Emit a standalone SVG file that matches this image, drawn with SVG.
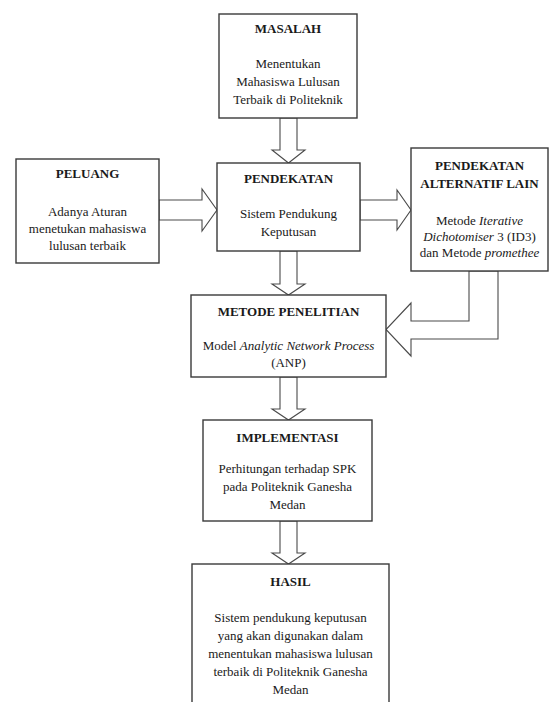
<svg xmlns="http://www.w3.org/2000/svg" width="549" height="702" viewBox="0 0 549 702">
<style>
.box{fill:#fff;stroke:#3a3a3a;stroke-width:1.4}
.arr{fill:#fff;stroke:#4a4a4a;stroke-width:1.1;stroke-linejoin:miter}
text{font-family:'Liberation Serif','DejaVu Serif',serif;font-size:13px;fill:#1a1a1a;text-anchor:middle}
.t{font-weight:bold}
.i{font-style:italic}
</style>
<rect width="549" height="702" fill="#fff"/>
<g id="connectors">
<polygon class="arr" points="280,118 297,118 297,150 305,150 288.5,163 272,150 280,150"/>
<polygon class="arr" points="280,251 297,251 297,284 305,284 288.5,295 272,284 280,284"/>
<polygon class="arr" points="280,377 297,377 297,409 305,409 288.5,420 272,409 280,409"/>
<polygon class="arr" points="280,521 297,521 297,553 305,553 288.5,564 272,553 280,553"/>
<polygon class="arr" points="159,200 202,200 202,189 217,210 202,231 202,220 159,220"/>
<polygon class="arr" points="360,200 397,200 397,190 411,210 397,230 397,220 360,220"/>
<polygon class="arr" points="469,271 498,271 498,339 411,339 411,356 386,329.5 411,303 411,321 469,321"/>
</g>
<g font-family="Liberation Serif, DejaVu Serif, serif">
<g id="masalah">
<rect class="box" x="219" y="14" width="138" height="104"/>
<text class="t" x="288" y="33">MASALAH</text>
<text x="288" y="68">Menentukan</text>
<text x="288" y="86">Mahasiswa Lulusan</text>
<text x="288" y="104">Terbaik di Politeknik</text>
</g>
<g id="peluang">
<rect class="box" x="16" y="159" width="143" height="104"/>
<text class="t" x="87.5" y="178">PELUANG</text>
<text x="87.5" y="216">Adanya Aturan</text>
<text x="87.5" y="233">menetukan mahasiswa</text>
<text x="87.5" y="250">lulusan terbaik</text>
</g>
<g id="pendekatan">
<rect class="box" x="217" y="163" width="143" height="88"/>
<text class="t" x="288.5" y="183">PENDEKATAN</text>
<text x="288.5" y="218">Sistem Pendukung</text>
<text x="288.5" y="236">Keputusan</text>
</g>
<g id="alternatif">
<rect class="box" x="411" y="148" width="137" height="123"/>
<text class="t" x="479.5" y="170">PENDEKATAN</text>
<text class="t" x="479.5" y="188">ALTERNATIF LAIN</text>
<text x="479.5" y="225">Metode  <tspan class="i">Iterative</tspan></text>
<text x="479.5" y="241"><tspan class="i">Dichotomiser</tspan> 3 (ID3)</text>
<text x="479.5" y="257">dan Metode <tspan class="i">promethee</tspan></text>
</g>
<g id="metode">
<rect class="box" x="191" y="295" width="195" height="82"/>
<text class="t" x="288.5" y="316">METODE PENELITIAN</text>
<text x="288.5" y="350">Model <tspan class="i">Analytic Network Process</tspan></text>
<text x="288.5" y="367">(ANP)</text>
</g>
<g id="implementasi">
<rect class="box" x="203" y="420" width="169" height="101"/>
<text class="t" x="287.5" y="442">IMPLEMENTASI</text>
<text x="287.5" y="473">Perhitungan terhadap SPK</text>
<text x="287.5" y="491">pada Politeknik Ganesha</text>
<text x="287.5" y="509">Medan</text>
</g>
<g id="hasil">
<rect class="box" x="192" y="564" width="197" height="145"/>
<text class="t" x="290.5" y="586">HASIL</text>
<text x="290.5" y="622">Sistem pendukung keputusan</text>
<text x="290.5" y="640">yang akan digunakan dalam</text>
<text x="290.5" y="658">menentukan mahasiswa lulusan</text>
<text x="290.5" y="676">terbaik di Politeknik Ganesha</text>
<text x="290.5" y="694">Medan</text>
</g>
</g>
</svg>
